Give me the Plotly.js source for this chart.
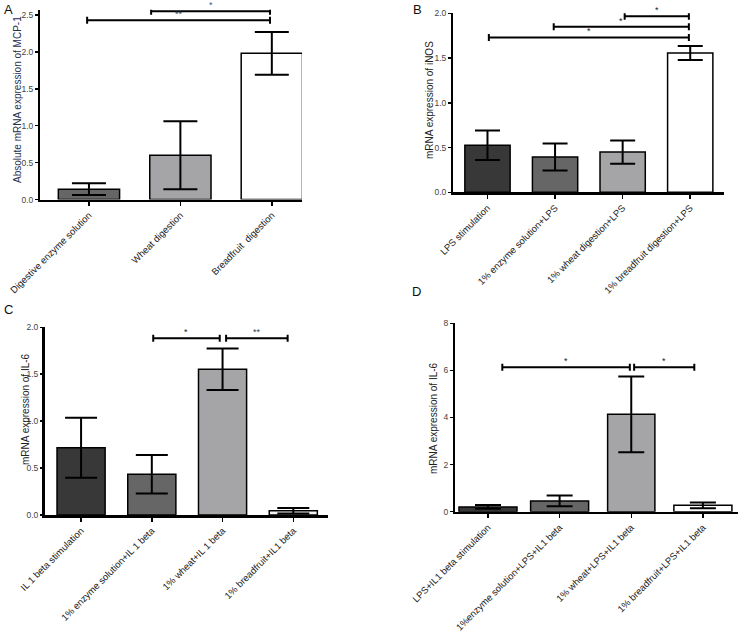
<!DOCTYPE html>
<html>
<head>
<meta charset="utf-8">
<script src="https://cdn.plot.ly/plotly-2.35.2.min.js"></script>
<style>
  body { margin: 0; background: #fff; }
  #chart { width: 740px; height: 632px; }
</style>
</head>
<body>
<div id="chart"></div>
<script>
// Panel A - MCP-1
var catsA = ['Digestive enzyme solution', 'Wheat digestion', 'Breadfruit  digestion'];
var meanA = [0.14, 0.60, 1.98];
var semA = [0.08, 0.46, 0.29];
var colorsA = ['#666666', '#a5a5a7', '#ffffff'];

// Panel B - iNOS
var catsB = ['LPS stimulation', '1% enzyme solution+LPS', '1% wheat digestion+LPS', '1% breadfruit digestion+LPS'];
var meanB = [0.525, 0.395, 0.45, 1.555];
var semB = [0.165, 0.15, 0.13, 0.078];
var colorsB = ['#383838', '#666666', '#a5a5a7', '#ffffff'];

// Panel C - IL-6 (IL 1 beta)
var catsC = ['IL 1 beta stimulation', '1% enzyme solution+IL 1 beta', '1% wheat+IL 1 beta', '1% breadfruit+IL1 beta'];
var meanC = [0.717, 0.434, 1.553, 0.046];
var semC = [0.32, 0.205, 0.22, 0.03];
var colorsC = ['#383838', '#666666', '#a5a5a7', '#f2f2f2'];

// Panel D - IL-6 (LPS + IL1 beta)
var catsD = ['LPS+IL1 beta stimulation', '1%enzyme solution+LPS+IL1 beta', '1% wheat+LPS+IL1 beta', '1% breadfruit+LPS+IL1 beta'];
var meanD = [0.2, 0.455, 4.135, 0.27];
var semD = [0.08, 0.23, 1.61, 0.12];
var colorsD = ['#383838', '#666666', '#a5a5a7', '#ffffff'];

// significance brackets: [from category, to category, level, label]
var sigA = [[0.68, 1.98, 2.55, '*'], [-0.02, 1.98, 2.43, '**']];
var sigB = [[2.03, 2.98, 1.966, '*'], [0.98, 2.98, 1.85, '*'], [0.02, 2.98, 1.73, '*']];
var sigC = [[1.02, 1.96, 1.884, '*'], [2.05, 2.92, 1.884, '**']];
var sigD = [[0.2, 1.98, 6.13, '*'], [2.04, 2.88, 6.13, '*']];

var FONT = 'Liberation Sans, Arial, sans-serif';

function barTrace(cats, mean, sem, colors, ax, capw, widths) {
  return {
    type: 'bar',
    x: cats,
    y: mean,
    width: widths,
    xaxis: 'x' + ax,
    yaxis: 'y' + ax,
    marker: { color: colors, line: { color: '#000', width: 1.5 } },
    error_y: { type: 'data', array: sem, visible: true, color: '#000', thickness: 2, width: capw },
    hoverinfo: 'skip'
  };
}

var data = [
  barTrace(catsA, meanA, semA, colorsA, '', 17, 0.67),
  barTrace(catsB, meanB, semB, colorsB, '2', 12.5, 0.67),
  barTrace(catsC, meanC, semC, colorsC, '3', 16, 0.68),
  barTrace(catsD, meanD, semD, colorsD, '4', 13, [0.81, 0.81, 0.66, 0.81])
];

var shapes = [];
var annotations = [];

function addSig(list, ax, starColors) {
  var xr = 'x' + ax, yr = 'y' + ax;
  list.forEach(function (s, i) {
    shapes.push({ type: 'line', xref: xr, yref: yr, x0: s[0], x1: s[1], y0: s[2], y1: s[2],
      line: { color: '#000', width: 2 } });
    [s[0], s[1]].forEach(function (xe) {
      shapes.push({ type: 'line', xref: xr, yref: yr, ysizemode: 'pixel', yanchor: s[2],
        x0: xe, x1: xe, y0: -3.5, y1: 3.5, line: { color: '#000', width: 2 } });
    });
    annotations.push({ xref: xr, yref: yr, x: (s[0] + s[1]) / 2, y: s[2], text: s[3],
      showarrow: false, yanchor: 'bottom', yshift: -1,
      font: { family: FONT, size: 9, color: starColors ? starColors[i] : '#222' } });
  });
}
addSig(sigA, '', ['#3a58a8', '#34405e']);
addSig(sigB, '2');
addSig(sigC, '3', ['#222', '#34405e']);
addSig(sigD, '4');

// panel letters and y titles
var letters = [['A', 2, 0], ['B', 411, 0], ['C', 2, 300], ['D', 410, 282]];
letters.forEach(function (l) {
  annotations.push({ xref: 'paper', yref: 'paper', x: l[1] / 740, y: 1 - l[2] / 632,
    xanchor: 'left', yanchor: 'top', text: l[0], showarrow: false,
    font: { family: FONT, size: 13, color: '#111' } });
});
var ytitles = [
  ['Absolute mRNA expression of MCP-1', 18, 100, '#26304f'],
  ['mRNA expression of iNOS', 430, 100, '#222'],
  ['mRNA expression of IL-6', 25, 409, '#222'],
  ['mRNA expression of IL-6', 433, 418, '#222']
];
ytitles.forEach(function (t) {
  annotations.push({ xref: 'paper', yref: 'paper', x: t[1] / 740, y: 1 - t[2] / 632,
    xanchor: 'center', yanchor: 'middle', textangle: -90, text: t[0], showarrow: false,
    font: { family: FONT, size: 10, color: t[3] } });
});

function xax(domain, range, anchor) {
  return {
    domain: domain, range: range, anchor: anchor, type: 'category',
    showline: true, linecolor: '#000', linewidth: 2.5,
    ticks: 'outside', ticklen: 4, tickwidth: 1.5, tickcolor: '#000',
    tickangle: -45, tickfont: { family: FONT, size: 9.5, color: '#222' },
    showgrid: false, zeroline: false, fixedrange: true
  };
}
function yax(domain, range, dtick, fmt, anchor) {
  return {
    domain: domain, range: range, anchor: anchor, dtick: dtick, tick0: 0, tickformat: fmt,
    showline: true, linecolor: '#000', linewidth: 2.5,
    ticks: 'outside', ticklen: 2.5, tickwidth: 1.5, tickcolor: '#000',
    tickfont: { family: FONT, size: 8.5, color: '#444' },
    showgrid: false, zeroline: false, fixedrange: true
  };
}

var layout = {
  width: 740,
  height: 632,
  margin: { l: 0, r: 0, t: 0, b: 0 },
  paper_bgcolor: '#fff',
  plot_bgcolor: 'rgba(0,0,0,0)',
  showlegend: false,
  bargap: 0.33,
  xaxis: xax([0.0541, 0.4081], [-0.535, 2.33], 'y'),
  yaxis: yax([0.6843, 0.9845], [0, 2.57], 0.5, '.1f', 'x'),
  xaxis2: xax([0.6122, 0.9784], [-0.51, 3.5], 'y2'),
  yaxis2: yax([0.6957, 0.9790], [0, 2], 0.5, '.1f', 'x2'),
  xaxis3: xax([0.0608, 0.4432], [-0.51, 3.49], 'y3'),
  yaxis3: yax([0.1851, 0.4821], [0, 2], 0.5, '.1f', 'x3'),
  xaxis4: xax([0.6149, 0.9973], [-0.46, 3.49], 'y4'),
  yaxis4: yax([0.1904, 0.4885], [0, 8], 2, 'd', 'x4'),
  shapes: shapes,
  annotations: annotations
};

Plotly.newPlot('chart', data, layout, { staticPlot: true, displayModeBar: false });
</script>
</body>
</html>
